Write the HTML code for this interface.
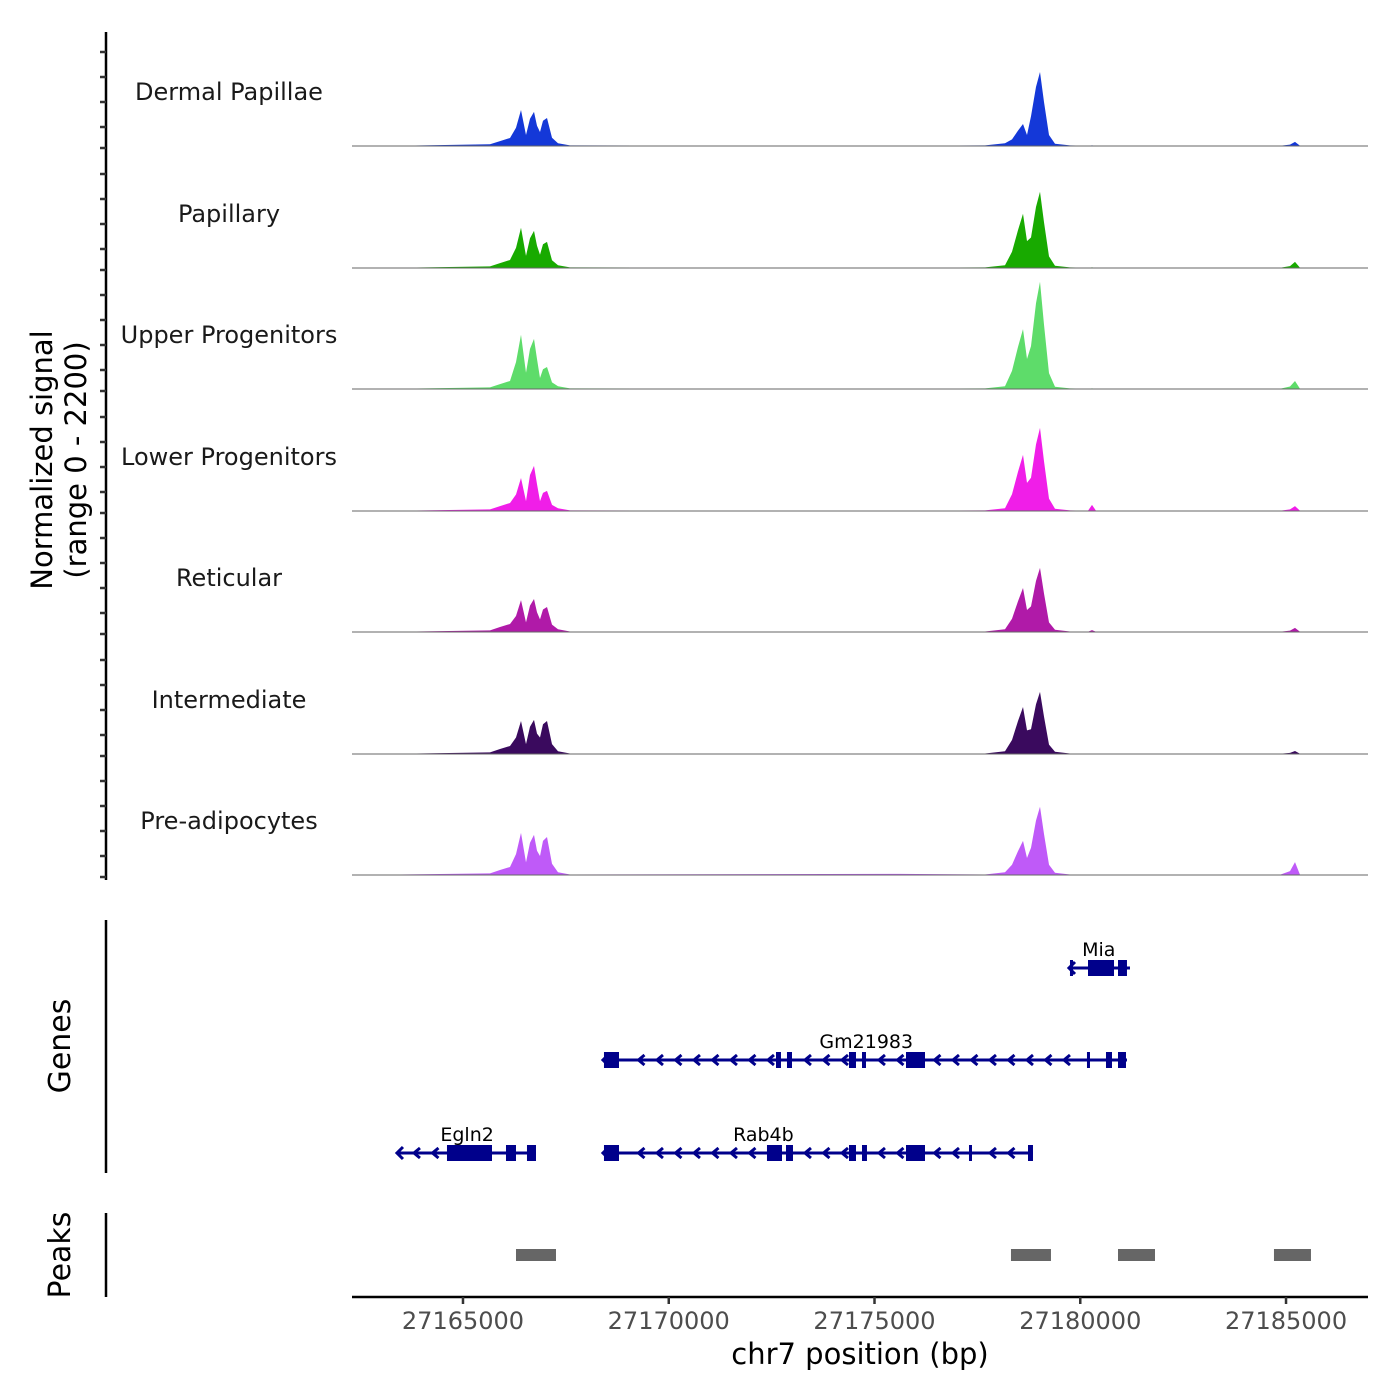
<!DOCTYPE html>
<html><head><meta charset="utf-8"><style>
body{margin:0;background:#fff}
svg{display:block;font-family:"DejaVu Sans","Liberation Sans",sans-serif}
</style></head><body>
<svg id="chart" width="1400" height="1400" viewBox="0 0 1400 1400" xmlns="http://www.w3.org/2000/svg">
<g id="tracks"></g>
<g id="genes"></g>
<g id="peaks"></g>
<g id="axes"></g>
<text transform="translate(52,460) rotate(-90)" text-anchor="middle" font-size="29" fill="#000">Normalized signal</text>
<text transform="translate(86,460) rotate(-90)" text-anchor="middle" font-size="29" fill="#000">(range 0 - 2200)</text>
<text transform="translate(70,1046) rotate(-90)" text-anchor="middle" font-size="30" fill="#000">Genes</text>
<text transform="translate(70,1255) rotate(-90)" text-anchor="middle" font-size="30" fill="#000">Peaks</text>
<text x="860" y="1364" text-anchor="middle" font-size="29" fill="#000">chr7 position (bp)</text>
</svg>
<script>
const positions = [27162303,27163469,27165656,27165899,27166142,27166288,27166409,27166531,27166628,27166725,27166798,27166871,27166944,27167041,27167163,27167309,27167600,27175619,27177685,27178171,27178341,27178487,27178608,27178705,27178802,27178924,27179021,27179118,27179240,27179386,27179750,27180188,27180285,27180382,27184853,27185096,27185218,27185339,27186992];
const trackNames = ["Dermal Papillae","Papillary","Upper Progenitors","Lower Progenitors","Reticular","Intermediate","Pre-adipocytes"];
const trackColors = ["#1438d8","#18aa00","#5edc6a","#f01ee8","#b01aa8","#3a0a5e","#bf5af8"];
const dermal = [0,5,30,90,145,330,655,200,495,620,370,255,460,510,150,50,10,5,10,50,120,280,400,200,540,1075,1345,800,200,40,10,5,10,5,5,25,75,5,0];
const papillary = [0,5,30,90,145,365,730,220,540,675,405,240,430,475,140,50,10,5,10,50,295,690,985,490,555,1110,1385,830,210,40,10,5,10,5,5,35,110,5,0];
const upper = [0,5,30,90,145,490,985,295,730,910,545,200,360,400,120,50,10,5,10,50,330,765,1090,545,780,1560,1950,1170,290,40,10,5,10,5,5,45,145,5,0];
const lower = [0,5,30,90,145,300,600,180,655,820,490,180,330,365,110,50,10,5,10,50,305,715,1020,510,605,1210,1510,905,225,40,10,5,110,5,5,30,90,5,0];
const reticular = [0,5,30,90,145,290,580,175,480,600,360,230,410,455,135,50,10,5,10,50,240,560,800,400,465,930,1165,700,175,40,10,5,35,5,5,25,75,5,0];
const intermediate = [0,5,30,90,145,300,600,180,495,620,370,300,540,600,180,50,10,5,10,50,255,600,855,430,450,905,1130,680,170,40,10,5,10,5,5,20,55,5,0];
const preadipo = [0,10,30,90,145,380,765,230,585,730,440,345,620,690,205,50,10,20,10,50,185,435,620,310,495,990,1240,745,185,40,10,5,10,5,5,70,235,5,0];
const xTicks = [27165000,27170000,27175000,27180000,27185000];
const genes = [
 {name:"Mia",row:0,start:27179750,end:27181208,labelPos:27180450,exons:[[27179750,27179823],[27180188,27180820],[27180917,27181135]]},
 {name:"Gm21983",row:1,start:27168426,end:27181135,labelPos:27174800,exons:[[27168426,27168791],[27172606,27172727],[27172873,27172995],[27174380,27174550],[27174696,27174793],[27175765,27176227],[27180163,27180236],[27180625,27180771],[27180917,27181111]]},
 {name:"Rab4b",row:2,start:27168426,end:27178851,labelPos:27172300,exons:[[27168426,27168791],[27172387,27172752],[27172849,27173019],[27174380,27174550],[27174696,27174817],[27175765,27176227],[27177296,27177369],[27178730,27178851]]},
 {name:"Egln2",row:2,start:27163420,end:27166774,labelPos:27165100,exons:[[27164611,27165705],[27166045,27166288],[27166555,27166774]]}
];
const peakStarts = [27166288,27178316,27180917,27184707];
const peakEnds = [27167260,27179288,27181816,27185606];

const series = [dermal,papillary,upper,lower,reticular,intermediate,preadipo];
const NS="http://www.w3.org/2000/svg";
const X0=352,X1=1368, BP0=27162303, BP1=27186992;
const xs = bp => X0 + (bp-BP0)/(BP1-BP0)*(X1-X0);
const baselines=[146,268,389,511,632,754,875];
const TRACK_H=121, YMAX=2200;
const ys = (v,i) => baselines[i] - v/YMAX*TRACK_H;
function mk(tag,attrs,parent){const e=document.createElementNS(NS,tag);for(const k in attrs)e.setAttribute(k,attrs[k]);parent.appendChild(e);return e;}
const tg=document.getElementById('tracks');
series.forEach((vals,i)=>{
  let d=`M${xs(positions[0])},${baselines[i]}`;
  vals.forEach((v,j)=>{d+=` L${xs(positions[j]).toFixed(1)},${ys(v,i).toFixed(1)}`;});
  d+=` L${xs(positions[positions.length-1])},${baselines[i]} Z`;
  const p=mk('path',{d:d,fill:trackColors[i]},tg);
  
  
  const l=mk('line',{x1:X0,x2:X1,y1:baselines[i],y2:baselines[i],stroke:'#666','stroke-width':1},tg);
  
  
  const t=mk('text',{x:229,y:baselines[i]-46,'text-anchor':'middle','font-size':24,fill:'#1a1a1a'},tg);
  t.textContent=trackNames[i];
  
  
});
const gg=document.getElementById('genes');
const rowY=[968,1060,1153], C='#00008b';
genes.forEach(g=>{
  const y=rowY[g.row];
  const grp=mk('g',{},gg);
  
  
  mk('line',{x1:xs(g.start),x2:xs(g.end),y1:y,y2:y,stroke:C,'stroke-width':3},grp);
  const a=xs(g.start), b=xs(g.end);
  for(let x=a+18;x<b-4;x+=18.5){
    const inEx=g.exons.some(e=>x>=xs(e[0])-4&&x<=xs(e[1])+4);
    if(inEx)continue;
    mk('polyline',{points:`${x+4},${y-5} ${x-2},${y} ${x+4},${y+5}`,fill:'none',stroke:C,'stroke-width':3},grp);
  }
  mk('polyline',{points:`${a+5},${y-6} ${a-1},${y} ${a+5},${y+6}`,fill:'none',stroke:C,'stroke-width':3},grp);
  g.exons.forEach(e=>{
    const w=Math.max(3,xs(e[1])-xs(e[0]));
    mk('rect',{x:xs(e[0]),y:y-8,width:w,height:16,fill:C},grp);
  });
  const t=mk('text',{x:xs(g.labelPos),y:y-12,'text-anchor':'middle','font-size':19,fill:'#000'},grp);
  t.textContent=g.name;
  
  
});
const pg=document.getElementById('peaks');
peakStarts.forEach((s,i)=>{
  const r=mk('rect',{x:xs(s),y:1249,width:xs(peakEnds[i])-xs(s),height:12,fill:'#666'},pg);
  
  
});
const ag=document.getElementById('axes');
[[32,880],[920,1173],[1213,1297]].forEach(s=>{
  const l=mk('line',{x1:106,x2:106,y1:s[0],y2:s[1],stroke:'#000','stroke-width':2.5},ag);
  
  
});
baselines.forEach(b=>{
  [0,21,46,71,96].forEach(o=>{
    const t=mk('line',{x1:100,x2:106,y1:b-o+2,y2:b-o+2,stroke:'#333','stroke-width':2.5},ag);
    
    
  });
});
const xl=mk('line',{x1:X0,x2:X1,y1:1297,y2:1297,stroke:'#000','stroke-width':2.5},ag);


xTicks.forEach(v=>{
  const t=mk('line',{x1:xs(v),x2:xs(v),y1:1297,y2:1304,stroke:'#333','stroke-width':2.5},ag);
  
  
  const lb=mk('text',{x:xs(v),y:1329,'text-anchor':'middle','font-size':24,fill:'#4d4d4d'},ag);
  lb.textContent=v;
  
  
});
</script>
</body></html>
